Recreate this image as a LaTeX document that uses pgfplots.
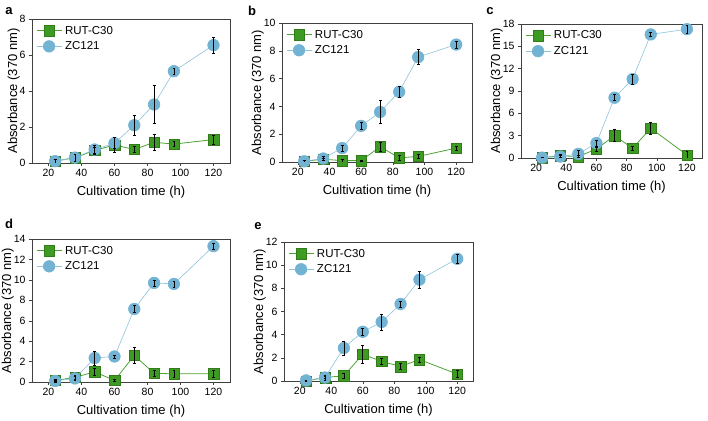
\documentclass[border=0pt]{standalone}
\usepackage{pgfplots}
\usepackage{pgfplotstable}
\usepackage{fontspec}
\setmainfont{Liberation Sans}
\pgfplotsset{compat=1.18}
\definecolor{rutg}{HTML}{3D9A22}
\definecolor{rutline}{HTML}{4FA335}
\definecolor{zcb}{HTML}{72B3D4}
\definecolor{zcline}{HTML}{8DC3DC}

% x: time, r: RUT-C30, re: error, z: ZC121, ze: error
\pgfplotstableread{
x r re z ze
24 0.10 0.10 0.10 0.10
36 0.30 0.20 0.30 0.20
48 0.70 0.15 0.75 0.25
60 1.00 0.40 1.10 0.30
72 0.75 0.15 2.10 0.55
84 1.15 0.45 3.25 1.05
96 1.05 0.15 5.10 0.15
120 1.30 0.25 6.55 0.45
}\taba
\pgfplotstableread{
x r re z ze
24 0.05 0.05 0.05 0.05
36 0.20 0.10 0.25 0.15
48 0.10 0.10 1.00 0.20
60 0.10 0.05 2.60 0.25
72 1.10 0.35 3.60 0.85
84 0.30 0.20 5.05 0.40
96 0.40 0.15 7.55 0.55
120 1.00 0.15 8.45 0.25
}\tabb
\pgfplotstableread{
x r re z ze
24 0.05 0.10 0.05 0.10
36 0.30 0.20 0.20 0.20
48 0.20 0.20 0.55 0.50
60 1.20 0.30 2.00 0.40
72 3.00 0.80 8.10 0.40
84 1.30 0.30 10.60 0.70
96 4.00 0.80 16.60 0.30
120 0.40 0.50 17.30 0.50
}\tabc
\pgfplotstableread{
x r re z ze
24 0.15 0.10 0.10 0.10
36 0.45 0.20 0.35 0.20
48 1.00 0.35 2.35 0.70
60 0.15 0.10 2.50 0.15
72 2.60 0.80 7.15 0.35
84 0.85 0.30 9.70 0.30
96 0.80 0.30 9.60 0.30
120 0.80 0.30 13.30 0.30
}\tabd
\pgfplotstableread{
x r re z ze
24 0.00 0.05 0.05 0.05
36 0.30 0.20 0.30 0.10
48 0.45 0.20 2.85 0.60
60 2.30 0.80 4.25 0.30
72 1.70 0.30 5.10 0.70
84 1.25 0.25 6.65 0.25
96 1.85 0.20 8.75 0.75
120 0.60 0.30 10.55 0.35
}\tabe

\pgfplotsset{
  panel/.style={
    scale only axis, anchor=south west, clip mode=individual,
    xmin=10, xmax=130, ymin=0,
    xtick={20,40,...,120},
    tick align=outside, tick pos=left, major tick length=3pt,
    axis line style={black!75}, every tick/.style={black!75},
    tick label style={font=\fontsize{10.5}{12}\selectfont},
    /pgf/number format/assume math mode=true,
    label style={font=\fontsize{13}{15}\selectfont},
    xlabel={Cultivation time (h)},
    ylabel={Absorbance (370 nm)},
    xlabel style={yshift=-2pt},
    ylabel style={yshift=-7pt},
    legend style={at={(0.005,0.98)}, anchor=north west, draw=none, fill=none,
      font=\fontsize{11.5}{13}\selectfont, row sep=2pt,
      nodes={inner xsep=3pt}},
    legend cell align=left,
    legend image code/.code={\draw[mark repeat=2,mark phase=2,#1]
      plot coordinates {(0cm,0cm)(0.44cm,0cm)(0.88cm,0cm)};},
  },
  rut/.style={color=rutline, line width=0.8pt, mark=square*,
    mark size=5.2pt, mark options={fill=rutg, draw=rutg!80!black, line width=0.4pt}},
  zc/.style={color=zcline, line width=0.6pt, mark=*,
    mark size=5.8pt, mark options={fill=zcb, draw=zcb}},
  ebar/.style={draw=none, mark=none, forget plot,
    error bars/.cd, y dir=both, y explicit,
    error bar style={draw=black, line width=0.6pt},
    error mark options={rotate=90, mark size=1.4pt, draw=black, line width=0.6pt}},
}

\newcommand{\panel}[7]{%
  \begin{axis}[panel, at={(#1pt,#2pt)}, width=#3, height=#4, ymax=#5, ytick={#6}]
    \addplot[rut] table[x=x,y=r]{#7};
    \addplot[zc] table[x=x,y=z]{#7};
    \addplot[ebar] table[x=x,y=r,y error=re]{#7};
    \addplot[ebar] table[x=x,y=z,y error=ze]{#7};
    \legend{RUT-C30, ZC121}
  \end{axis}}

\begin{document}
\begin{tikzpicture}
\useasboundingbox (0pt,0pt) rectangle (708pt,420pt);
\panel{32}{257}{198pt}{144pt}{8}{0,2,...,8}{\taba}
\panel{282}{258}{190pt}{139pt}{10}{0,2,...,10}{\tabb}
\panel{521}{262}{181pt}{134pt}{18}{0,3,...,18}{\tabc}
\panel{32}{38}{198pt}{143pt}{14}{0,2,...,14}{\tabd}
\panel{284}{39}{189pt}{139pt}{12}{0,2,...,12}{\tabe}
\node[font=\fontsize{13}{15}\selectfont\bfseries] at (9pt,409pt) {a};
\node[font=\fontsize{13}{15}\selectfont\bfseries] at (252pt,409pt) {b};
\node[font=\fontsize{13}{15}\selectfont\bfseries] at (490pt,409pt) {c};
\node[font=\fontsize{13}{15}\selectfont\bfseries] at (9pt,196pt) {d};
\node[font=\fontsize{13}{15}\selectfont\bfseries] at (258pt,194pt) {e};
\end{tikzpicture}
\end{document}
